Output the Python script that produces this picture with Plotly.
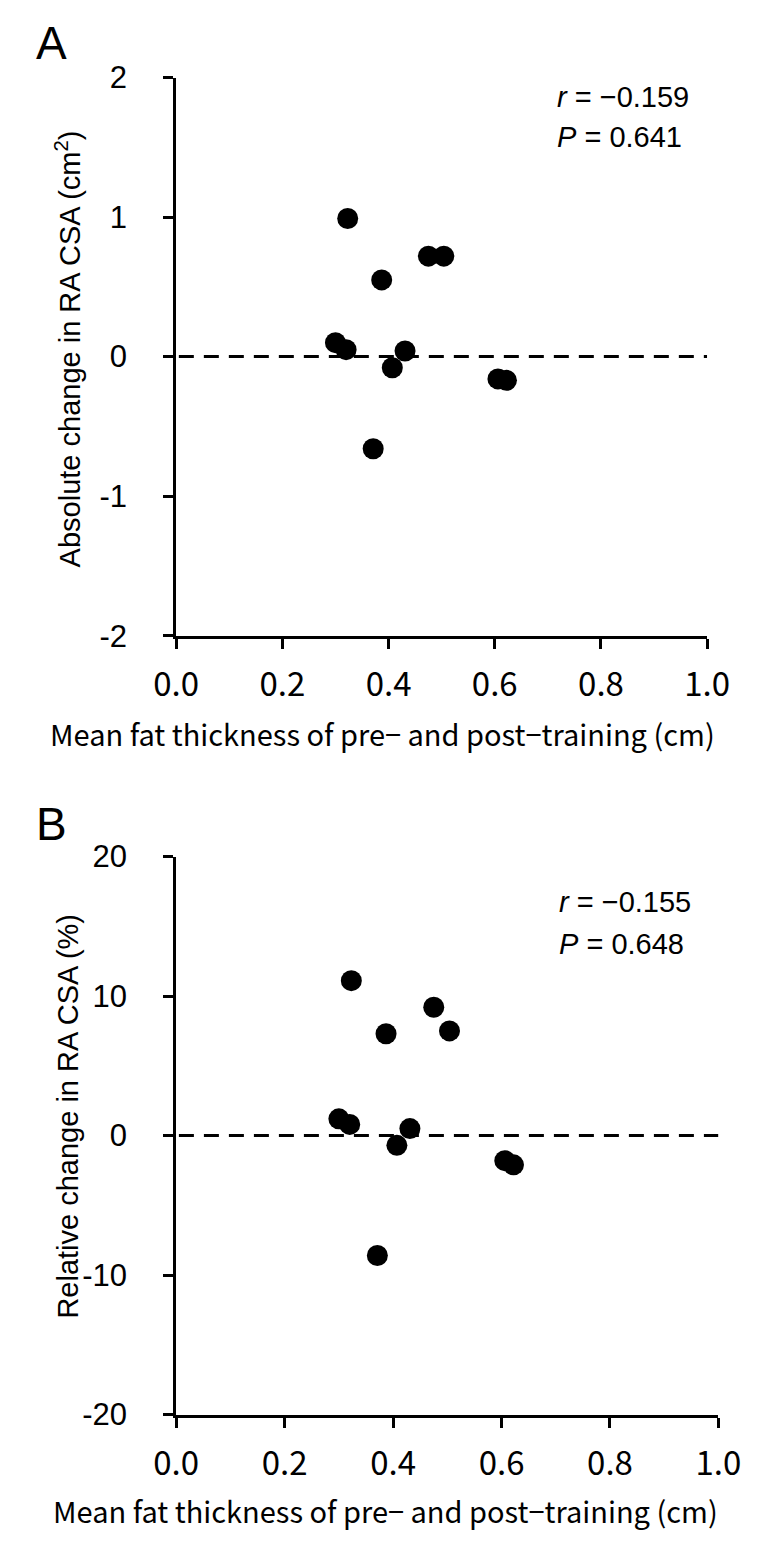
import plotly.graph_objects as go

W, H = 764, 1544

# ---- data ----
fat_thickness = [0.300, 0.320, 0.323, 0.371, 0.387, 0.407, 0.431, 0.475, 0.504, 0.606, 0.622]
abs_change = [0.10, 0.05, 0.99, -0.66, 0.55, -0.08, 0.04, 0.72, 0.72, -0.16, -0.17]
rel_change = [1.2, 0.8, 11.1, -8.6, 7.3, -0.7, 0.5, 9.2, 7.5, -1.8, -2.1]

x_ticks = [0.0, 0.2, 0.4, 0.6, 0.8, 1.0]
x_ticktext = ["0.0", "0.2", "0.4", "0.6", "0.8", "1.0"]
yA_ticks = [-2, -1, 0, 1, 2]
yA_ticktext = ["-2", "-1", "0", "1", "2"]
yB_ticks = [-20, -10, 0, 10, 20]
yB_ticktext = ["-20", "-10", "0", "10", "20"]

stats_A = ["<i>r</i> = −0.159", "<i>P</i> = 0.641"]
stats_B = ["<i>r</i> = −0.155", "<i>P</i> = 0.648"]
xtitle = "Mean fat thickness of pre− and post−training (cm)"
ytitle_A = "Absolute change in RA CSA (cm<sup>2</sup>)"
ytitle_B = "Relative change in RA CSA (%)"


def px(x):
    return x / W


def py(y):
    return 1 - y / H


fig = go.Figure()

marker = dict(color="black", size=21, line=dict(width=0))
fig.add_trace(go.Scatter(x=fat_thickness, y=abs_change, mode="markers", marker=marker,
                         xaxis="x", yaxis="y", showlegend=False))
fig.add_trace(go.Scatter(x=fat_thickness, y=rel_change, mode="markers", marker=marker,
                         xaxis="x2", yaxis="y2", showlegend=False))

tickfont_x = dict(family="Noto Sans CJK JP", size=33, color="black")
tickfont_y = dict(family="Liberation Sans", size=31, color="black")

common_x = dict(range=[0, 1], tickvals=x_ticks, ticktext=x_ticktext, showline=True,
                linecolor="black", linewidth=3, ticks="outside", ticklen=10, tickwidth=3,
                tickcolor="black", showgrid=False, zeroline=False, tickfont=tickfont_x,
                ticklabelstandoff=8, fixedrange=True)
common_y = dict(showline=True, linecolor="black", linewidth=3, ticks="outside", ticklen=10,
                tickwidth=3, tickcolor="black", showgrid=False, zeroline=False,
                tickfont=tickfont_y, ticklabelstandoff=30, fixedrange=True)

fig.update_layout(
    width=W, height=H,
    margin=dict(l=0, r=0, t=0, b=0),
    paper_bgcolor="white", plot_bgcolor="white",
    xaxis=dict(domain=[px(163), px(728)], anchor="y", **common_x),
    yaxis=dict(domain=[py(633), py(62)], anchor="x", range=[-2, 2],
               tickvals=yA_ticks, ticktext=yA_ticktext, **common_y),
    xaxis2=dict(domain=[px(163), px(740)], anchor="y2", **common_x),
    yaxis2=dict(domain=[py(1430), py(859)], anchor="x2", range=[-20, 20],
                tickvals=yB_ticks, ticktext=yB_ticktext, **common_y),
)

# dashed zero lines
for xr, yr in [("x", "y"), ("x2", "y2")]:
    fig.add_shape(type="line", xref=xr, yref=yr, x0=0.005, x1=1, y0=0, y1=0,
                  line=dict(color="black", width=3, dash="15px,10px"))

ann = []
# panel letters
ann.append(dict(text="A", x=px(12), y=py(27), xanchor="left", yanchor="middle",
                font=dict(family="Liberation Sans", size=46, color="black")))
ann.append(dict(text="B", x=px(12), y=py(826), xanchor="left", yanchor="middle",
                font=dict(family="Liberation Sans", size=46, color="black")))
# stats
statfont = dict(family="Liberation Sans", size=29, color="black")
for i, t in enumerate(stats_A):
    ann.append(dict(text=t, x=px(566), y=py(82 + 41 * i), xanchor="left", yanchor="middle",
                    font=statfont))
for i, t in enumerate(stats_B):
    ann.append(dict(text=t, x=px(568), y=py(906 + 42 * i), xanchor="left", yanchor="middle",
                    font=statfont))
# x titles
xtfont = dict(family="Noto Sans CJK JP", size=29, color="black")
ann.append(dict(text=xtitle, x=px(383), y=py(733), xanchor="center", yanchor="middle", font=xtfont))
ann.append(dict(text=xtitle, x=px(386), y=py(1528), xanchor="center", yanchor="middle", font=xtfont))
# y titles
ytfont = dict(family="Liberation Sans", size=29, color="black")
ann.append(dict(text=ytitle_A, x=px(48), y=py(340), xanchor="center", yanchor="middle",
                textangle=-90, font=ytfont))
ann.append(dict(text=ytitle_B, x=px(48), y=py(1125), xanchor="center", yanchor="middle",
                textangle=-90, font=ytfont))

for a in ann:
    a.update(xref="paper", yref="paper", showarrow=False)
fig.update_layout(annotations=ann)

fig.write_html("out.html")
